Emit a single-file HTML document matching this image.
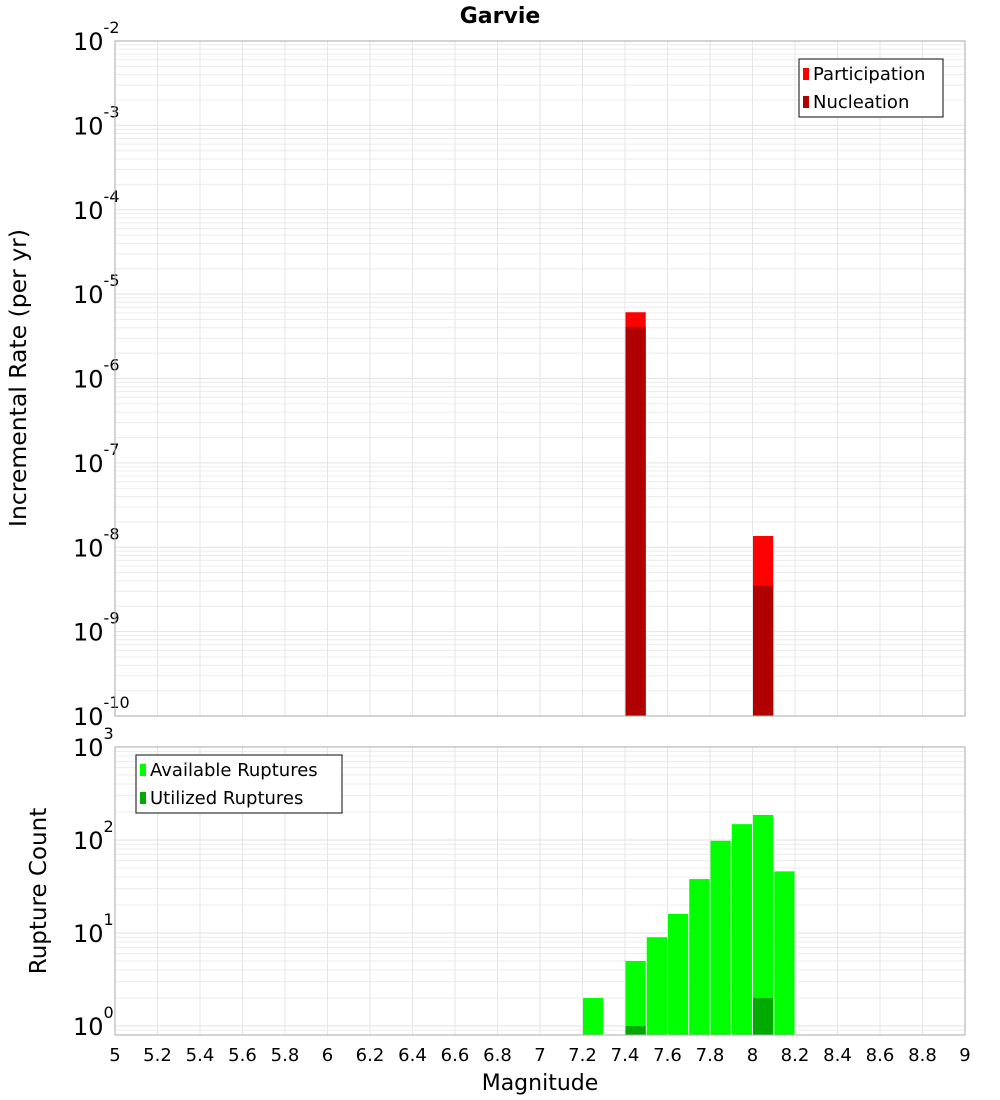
<!DOCTYPE html>
<html><head><meta charset="utf-8"><style>
body{margin:0;background:#fff}
svg{display:block;font-family:"DejaVu Sans","Liberation Sans",sans-serif}
</style></head><body>
<svg id="chart" width="1000" height="1100" viewBox="0 0 1000 1100" xmlns="http://www.w3.org/2000/svg">
<text x="500" y="23" text-anchor="middle" font-size="22" font-weight="bold">Garvie</text>
<g id="topPanel"></g><g id="botPanel"></g>
<text transform="translate(26,378) rotate(-90)" text-anchor="middle" font-size="23.5">Incremental Rate (per yr)</text>
<text transform="translate(46,891) rotate(-90)" text-anchor="middle" font-size="23">Rupture Count</text>
<text x="540" y="1090" text-anchor="middle" font-size="22">Magnitude</text>
</svg>
<script>
const partMags=[7.45,8.05];
const partVals=[6.1e-6,1.36e-8];
const nuclMags=[7.45,8.05];
const nuclVals=[4.1e-6,3.5e-9];
const availMags=[7.25,7.45,7.55,7.65,7.75,7.85,7.95,8.05,8.15];
const availVals=[2,5,9,16,38,98,148,186,46];
const utilMags=[7.45,8.05];
const utilVals=[1,2];
const xTicks=[5,5.2,5.4,5.6,5.8,6,6.2,6.4,6.6,6.8,7,7.2,7.4,7.6,7.8,8,8.2,8.4,8.6,8.8,9];
const topExp=[-2,-3,-4,-5,-6,-7,-8,-9,-10];
const botExp=[3,2,1,0];

const NS="http://www.w3.org/2000/svg";
const X0=115,X1=965;
const xs=m=>X0+(m-5)/4*(X1-X0);
function mk(p,t,a){const e=document.createElementNS(NS,t);for(const k in a)e.setAttribute(k,a[k]);p.appendChild(e);return e;}
function panel(g,y0,y1,lmax,lmin,exps,name){
  const ys=v=>y0+(lmax-Math.log10(v))/(lmax-lmin)*(y1-y0);
  for(let d=Math.floor(lmin);d<lmax;d++)for(let k=1;k<10;k++){const v=k*Math.pow(10,d);const y=ys(v);if(y<y0-0.1||y>y1+0.1)continue;
    const l=mk(g,'line',{x1:X0,x2:X1,y1:y,y2:y,stroke:k==1?'#e2e2e2':'#ececec','stroke-width':1});
    
    }
  xTicks.forEach(t=>{const l=mk(g,'line',{x1:xs(t),x2:xs(t),y1:y0,y2:y1,stroke:'#e6e6e6'});
    
    });
  exps.forEach(e=>{const y=ys(Math.pow(10,e));const t=mk(g,'text',{x:73,y:y+9,'font-size':24});
    
    
    t.textContent='10';const s=mk(t,'tspan',{dy:-17,'font-size':16});s.textContent=String(e);});
  return ys;
}
function bars(g,mags,vals,ys,yb,color,name){
  mags.forEach((m,i)=>{const x=xs(m-0.05)+0.5,w=xs(m+0.05)-xs(m-0.05)-1;const y=Math.max(ys(vals[i]),0);
    const r=mk(g,'rect',{x:x,y:y,width:w,height:yb-y,fill:color});
    
    });
}
function legend(g,x,y,w,items,name){
  const b=mk(g,'rect',{x:x,y:y,width:w,height:58,fill:'#fff',stroke:'#333','stroke-width':1.2});
  
  
  items.forEach((it,i)=>{const yy=y+14+i*28;
    const s=mk(g,'rect',{x:x+4,y:yy-5,width:6,height:12,fill:it[1]});
    
    
    const t=mk(g,'text',{x:x+14,y:yy+7,'font-size':18});
    
    
    t.textContent=it[0];});
}
const topG=document.getElementById('topPanel'),botG=document.getElementById('botPanel');
const ysT=panel(topG,41,716,-2,-10,topExp,'top');
bars(topG,partMags,partVals,ysT,716,'#ff0000','participation-bar');
bars(topG,nuclMags,nuclVals,ysT,716,'#b00000','nucleation-bar');
const fT=mk(topG,'rect',{x:X0,y:41,width:X1-X0,height:675,fill:'none',stroke:'#aaa'});


legend(topG,799,59,144,[['Participation','#ff0000'],['Nucleation','#b00000']],'top-legend');

const ysB=panel(botG,747,1035,3,-0.097,botExp,'bottom');
bars(botG,availMags,availVals,ysB,1035,'#00ff00','available-bar');
bars(botG,utilMags,utilVals,ysB,1035,'#00aa00','utilized-bar');
const fB=mk(botG,'rect',{x:X0,y:747,width:X1-X0,height:288,fill:'none',stroke:'#aaa'});


legend(botG,136,755,206,[['Available Ruptures','#00ff00'],['Utilized Ruptures','#00aa00']],'bottom-legend');
xTicks.forEach(t=>{const e=mk(botG,'text',{x:xs(t),y:1061,'text-anchor':'middle','font-size':18});
  
  
  e.textContent=String(t);});
</script>
</body></html>
